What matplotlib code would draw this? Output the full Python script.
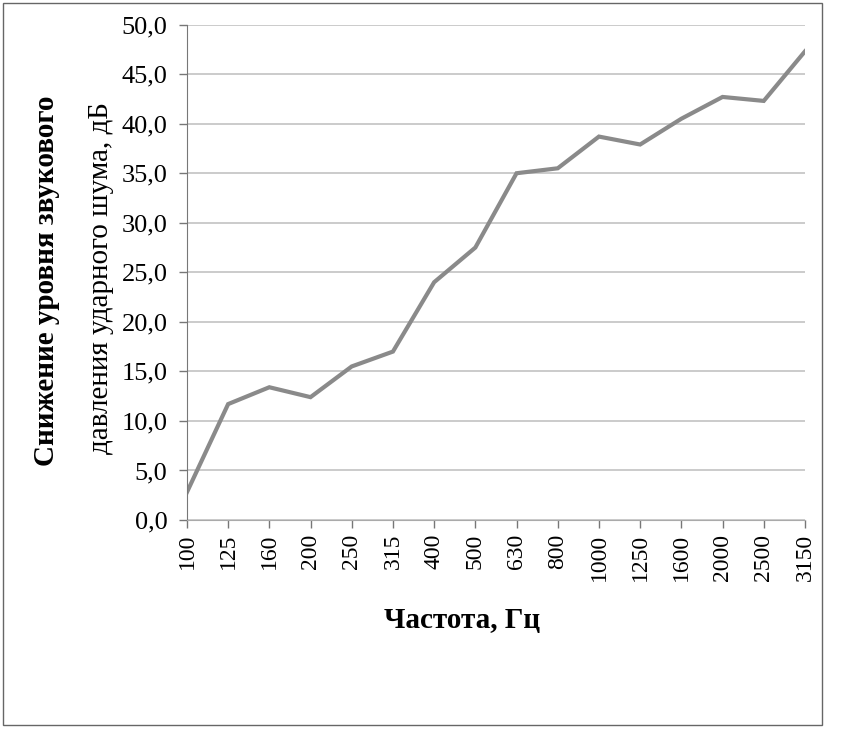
"""Impact noise level reduction vs. frequency."""

import matplotlib

matplotlib.use("Agg")
import matplotlib.pyplot as plt
from matplotlib.patches import Rectangle

frequencies = ["100", "125", "160", "200", "250", "315", "400", "500",
               "630", "800", "1000", "1250", "1600", "2000", "2500", "3150"]
reduction_db = [2.8, 11.7, 13.4, 12.4, 15.5, 17.0, 24.0, 27.5,
                35.0, 35.5, 38.7, 37.9, 40.5, 42.7, 42.3, 47.3]
y_ticks = [0, 5, 10, 15, 20, 25, 30, 35, 40, 45, 50]

plt.rcParams["font.family"] = ["Liberation Serif", "DejaVu Serif"]

fig = plt.figure(figsize=(8.42, 7.35), dpi=100)
ax = fig.add_axes([0.222, 0.2925, 0.734, 0.674])

positions = list(range(len(frequencies)))
ax.plot(positions, reduction_db, color="#8a8a8a", linewidth=3.0, solid_joinstyle="miter")

ax.set_xlim(0, len(frequencies) - 1)
ax.set_ylim(0, 50)
ax.set_xticks(positions)
ax.set_xticklabels(frequencies, rotation=90, fontsize=17)
ax.set_yticks(y_ticks)
ax.set_yticklabels([f"{v:.1f}".replace(".", ",") for v in y_ticks], fontsize=19)
ax.tick_params(axis="both", direction="out", length=6, color="#777777", width=1)
ax.tick_params(axis="x", pad=4)
ax.tick_params(axis="y", pad=8)

ax.yaxis.grid(True, color="#bdbdbd", linewidth=1.1)
ax.set_axisbelow(True)
for side in ("top", "right"):
    ax.spines[side].set_visible(False)
ax.spines["left"].set_color("#777777")
ax.spines["bottom"].set_color("#aaaaaa")

ax.set_xlabel("Частота, Гц", fontsize=21, fontweight="bold")
ax.xaxis.set_label_coords(0.445, -0.175)
fig.text(0.055, 0.618, "Снижение уровня звукового", rotation=90, fontsize=21,
         fontweight="bold", ha="center", va="center")
fig.text(0.12, 0.622, "давления ударного шума, дБ", rotation=90, fontsize=21,
         ha="center", va="center")

fig.patches.append(Rectangle((0.004, 0.014), 0.972, 0.982, transform=fig.transFigure,
                             fill=False, edgecolor="#666666", linewidth=1.0))

fig.savefig("out.png", dpi=100)
